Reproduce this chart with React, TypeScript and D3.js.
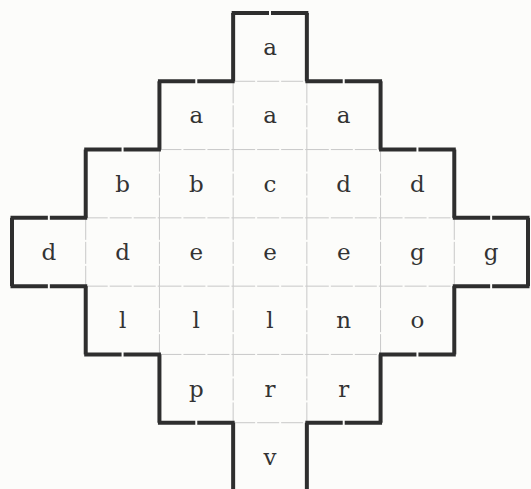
import React from "react";
import * as d3 from "d3";

// letters of each row, and the column where each row starts
const rowLetters = [
  ["a"],
  ["a", "a", "a"],
  ["b", "b", "c", "d", "d"],
  ["d", "d", "e", "e", "e", "g", "g"],
  ["l", "l", "l", "n", "o"],
  ["p", "r", "r"],
  ["v"],
];
const rowStart = [3, 2, 1, 0, 1, 2, 3];
const nCols = 7;
const nRows = 7;

const W = 531;
const H = 489;

type Cell = { r: number; c: number; letter: string };
type Edge = { x1: number; y1: number; x2: number; y2: number; outer: boolean };

const App = () => {
  const x = d3.scaleLinear().domain([0, nCols]).range([12, 528]);
  const y = d3.scaleLinear().domain([0, nRows]).range([13, 491]);

  const cells: Cell[] = [];
  rowLetters.forEach((row, r) =>
    row.forEach((letter, i) => cells.push({ r, c: rowStart[r] + i, letter }))
  );
  const has = (r: number, c: number) =>
    cells.some((d) => d.r === r && d.c === c);

  const edges: Edge[] = [];
  cells.forEach(({ r, c }) => {
    const x0 = x(c), x1 = x(c + 1), y0 = y(r), y1 = y(r + 1);
    // top
    if (!has(r - 1, c)) edges.push({ x1: x0, y1: y0, x2: x1, y2: y0, outer: true });
    // left
    if (!has(r, c - 1)) edges.push({ x1: x0, y1: y0, x2: x0, y2: y1, outer: true });
    // right
    edges.push({ x1: x1, y1: y0, x2: x1, y2: y1, outer: !has(r, c + 1) });
    // bottom (last row is left open, cut by the page)
    if (r < nRows - 1)
      edges.push({ x1: x0, y1: y1, x2: x1, y2: y1, outer: !has(r + 1, c) });
  });

  const inner = edges.filter((e) => !e.outer);
  const outer = edges.filter((e) => e.outer);

  return (
    <div style={{ position: "fixed", left: 0, top: 0 }}>
      <svg width={W} height={H} style={{ display: "block", background: "#fcfcfa" }}>
        {inner.map((e, i) => (
          <line
            key={"i" + i}
            x1={e.x1}
            y1={e.y1}
            x2={e.x2}
            y2={e.y2}
            stroke="#c8c8c8"
            strokeWidth={1}
            strokeDasharray="22,2"
          />
        ))}
        {outer.map((e, i) => {
          const horiz = e.y1 === e.y2;
          if (!horiz)
            return (
              <line
                key={"o" + i}
                x1={e.x1}
                y1={e.y1}
                x2={e.x2}
                y2={e.y2}
                stroke="#2e2e2e"
                strokeWidth={4}
              />
            );
          const mid = (e.x1 + e.x2) / 2;
          return (
            <g key={"o" + i}>
              <line x1={e.x1 - 1.5} y1={e.y1} x2={mid - 1} y2={e.y2} stroke="#2e2e2e" strokeWidth={4} />
              <line x1={mid + 1} y1={e.y1} x2={e.x2 + 1.5} y2={e.y2} stroke="#2e2e2e" strokeWidth={4} />
            </g>
          );
        })}
        {cells.map((d, i) => (
          <text
            key={"t" + i}
            x={(x(d.c) + x(d.c + 1)) / 2}
            y={(y(d.r) + y(d.r + 1)) / 2 + 8}
            textAnchor="middle"
            fontFamily="DejaVu Serif"
            fontSize={23}
            fill="#333"
          >
            {d.letter}
          </text>
        ))}
      </svg>
    </div>
  );
};

export default App;
